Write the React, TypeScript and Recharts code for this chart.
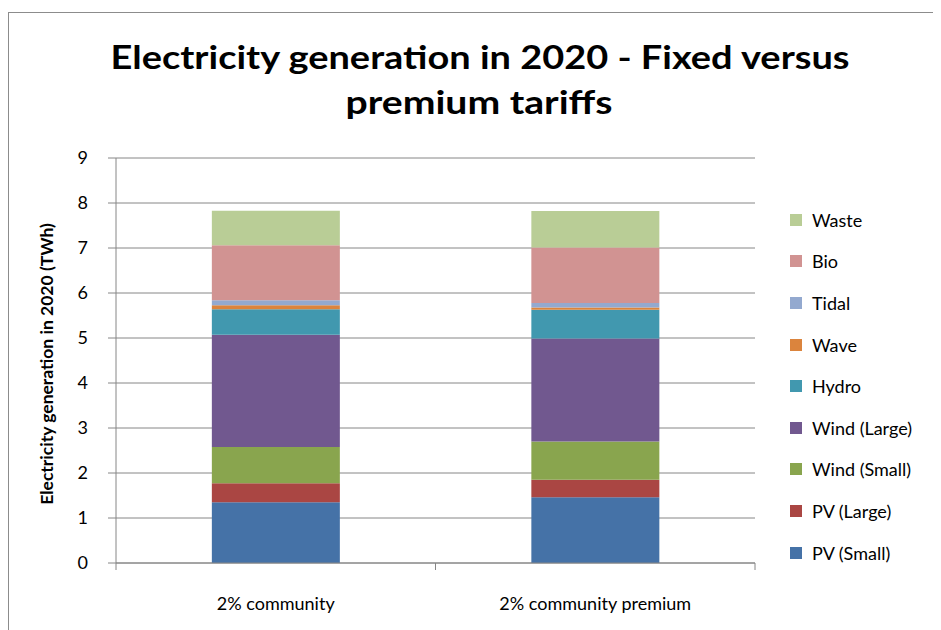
import React from 'react';
import { BarChart, Bar, XAxis, YAxis, CartesianGrid, Legend } from 'recharts';

const categories = ['2% community', '2% community premium'];

// stacked bottom to top
const pvSmall = [1.35, 1.46];
const pvLarge = [0.42, 0.39];
const windSmall = [0.81, 0.85];
const windLarge = [2.49, 2.29];
const hydro = [0.57, 0.64];
const wave = [0.09, 0.05];
const tidal = [0.11, 0.1];
const bio = [1.22, 1.23];
const waste = [0.77, 0.81];

const yTicks = [0, 1, 2, 3, 4, 5, 6, 7, 8, 9];

const series = [
  { key: 'pvSmall', name: 'PV (Small)', values: pvSmall, color: '#4572A7' },
  { key: 'pvLarge', name: 'PV (Large)', values: pvLarge, color: '#AA4643' },
  { key: 'windSmall', name: 'Wind (Small)', values: windSmall, color: '#89A54E' },
  { key: 'windLarge', name: 'Wind (Large)', values: windLarge, color: '#71588F' },
  { key: 'hydro', name: 'Hydro', values: hydro, color: '#4198AF' },
  { key: 'wave', name: 'Wave', values: wave, color: '#DB843D' },
  { key: 'tidal', name: 'Tidal', values: tidal, color: '#93A9CF' },
  { key: 'bio', name: 'Bio', values: bio, color: '#D19392' },
  { key: 'waste', name: 'Waste', values: waste, color: '#B9CD96' },
];

const data = categories.map((name, i) => {
  const row: Record<string, any> = { name };
  series.forEach((s) => {
    row[s.key] = s.values[i];
  });
  return row;
});

const FONT = 'Lato, "Open Sans", sans-serif';
const GRID = '#868686';

const XTick = (props: any) => {
  const { x, y, payload, index, visibleTicksCount } = props;
  const half = payload && payload.offset ? payload.offset : 159.75;
  const last = index === (visibleTicksCount ?? categories.length) - 1;
  return (
    <g>
      <line x1={x - half} x2={x - half} y1={y} y2={y + 7} stroke={GRID} />
      {last && <line x1={x + half} x2={x + half} y1={y} y2={y + 7} stroke={GRID} />}
      <text x={x} y={y + 47} textAnchor="middle" fontSize={18} fontFamily={FONT} fill="#000">
        {payload.value}
      </text>
    </g>
  );
};

// legend lists the series top-down, last stacked first
const LegendList = () => (
  <div style={{ fontFamily: FONT, fontSize: 18, color: '#000' }}>
    {[...series].reverse().map((s) => (
      <div key={s.key} style={{ height: 41.6, display: 'flex', alignItems: 'center' }}>
        <span
          style={{ display: 'inline-block', width: 12, height: 12, background: s.color, marginRight: 10 }}
        />
        <span>{s.name}</span>
      </div>
    ))}
  </div>
);

const YLabel = () => (
  <text
    x={45}
    y={356}
    transform="rotate(-90, 45, 356)"
    textAnchor="middle"
    fontSize={17.5}
    fontWeight="bold"
    fontFamily={FONT}
    fill="#000"
  >
    Electricity generation in 2020 (TWh)
  </text>
);

export default function App() {
  return (
    <div style={{ position: 'relative', width: 933, height: 622 }}>
      <div
        style={{
          position: 'absolute',
          left: 0,
          top: 4,
          width: 933,
          height: 618,
          borderTop: '1px solid #8c8c8c',
          borderLeft: '1px solid #8c8c8c',
          boxSizing: 'border-box',
        }}
      />
      <svg
        width={933}
        height={130}
        style={{ position: 'absolute', left: 0, top: 0 }}
        fontFamily={FONT}
        fontWeight="bold"
        fontSize={32}
      >
        <text x={472} y={61} textAnchor="middle" textLength={739} lengthAdjust="spacingAndGlyphs">
          Electricity generation in 2020 - Fixed versus
        </text>
        <text x={471} y={106} textAnchor="middle" textLength={267} lengthAdjust="spacingAndGlyphs">
          premium tariffs
        </text>
      </svg>
      <div style={{ position: 'absolute', left: 0, top: 0 }}>
        <BarChart
          width={933}
          height={622}
          data={data}
          margin={{ top: 150, right: 186, bottom: 0, left: 0 }}
          barCategoryGap="30%"
        >
          <CartesianGrid vertical={false} stroke={GRID} />
          <XAxis
            dataKey="name"
            height={67}
            axisLine={{ stroke: GRID }}
            tickLine={false}
            tickSize={0}
            tickMargin={0}
            tick={<XTick />}
            interval={0}
          />
          <YAxis
            width={108}
            domain={[0, 9]}
            ticks={yTicks}
            interval={0}
            tickSize={8}
            tickMargin={20}
            axisLine={{ stroke: GRID }}
            tickLine={{ stroke: GRID }}
            tick={{ fill: '#000', fontSize: 18, fontFamily: FONT }}
            label={<YLabel />}
          />
          <Legend
            layout="vertical"
            align="center"
            verticalAlign="middle"
            content={<LegendList />}
            wrapperStyle={{ left: 782, top: 191, width: 150, height: 380 }}
          />
          {series.map((s) => (
            <Bar
              key={s.key}
              dataKey={s.key}
              name={s.name}
              stackId="a"
              fill={s.color}
              isAnimationActive={false}
            />
          ))}
        </BarChart>
      </div>
    </div>
  );
}
